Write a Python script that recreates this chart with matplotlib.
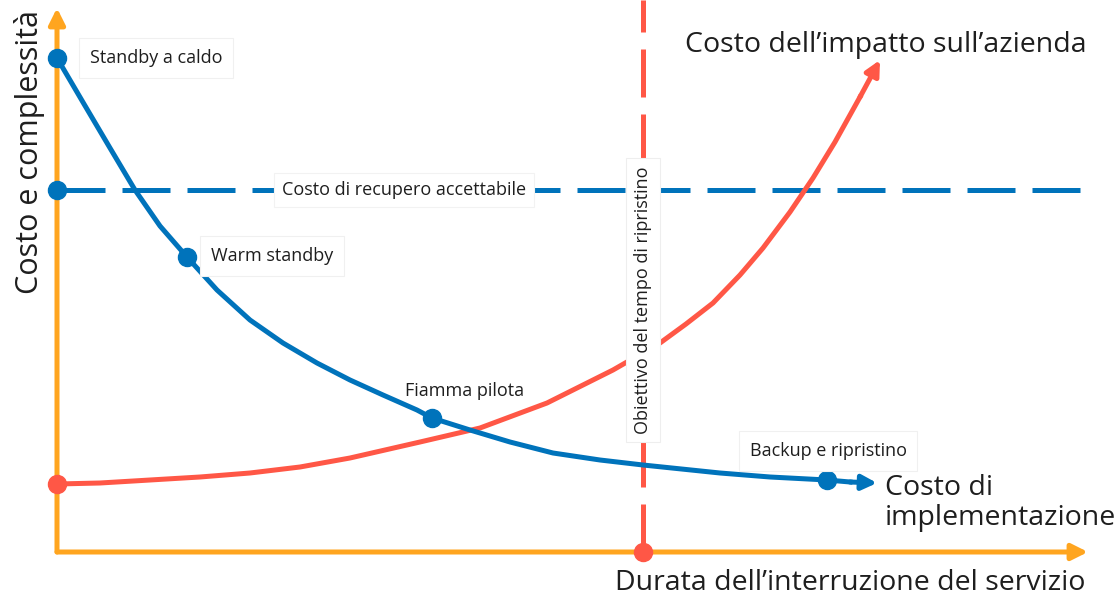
import matplotlib.pyplot as plt

plt.rcParams['font.family'] = ['Open Sans', 'DejaVu Sans']

blue = '#0073bb'
red = '#ff5746'
orange = '#ffa51f'
ink = '#1e1e1e'

# blue curve: cost of implementation
impl_x = [0.00, 0.27, 0.53, 0.78, 1.03, 1.30, 1.60, 1.93, 2.26, 2.60, 2.93, 3.26, 3.60, 3.75,
          4.13, 4.53, 4.96, 5.43, 5.86, 6.63, 7.13, 7.70, 7.93]
impl_y = [9.88, 8.96, 8.08, 7.24, 6.52, 5.90, 5.24, 4.64, 4.18, 3.78, 3.44, 3.14, 2.84, 2.68,
          2.44, 2.20, 1.98, 1.84, 1.74, 1.58, 1.50, 1.44, 1.40]
impl_tip = (8.20, 1.38)

# red curve: business impact cost
impact_x = [0.00, 0.43, 0.93, 1.43, 1.93, 2.43, 2.93, 3.63, 4.23, 4.90, 5.56, 6.03, 6.29,
            6.56, 6.83, 7.06, 7.33, 7.56, 7.78, 8.03]
impact_y = [1.36, 1.38, 1.44, 1.50, 1.58, 1.70, 1.88, 2.20, 2.48, 2.98, 3.64, 4.18, 4.56,
            4.98, 5.54, 6.08, 6.80, 7.48, 8.20, 9.10]
impact_tip = (8.23, 9.84)

# strategies on the blue curve
strat_names = ['Standby a caldo', 'Warm standby', 'Fiamma pilota', 'Backup e ripristino']
strat_x = [0.00, 1.30, 3.75, 7.70]
strat_y = [9.88, 5.90, 2.68, 1.44]

acceptable_cost = 7.24
rto = 5.86
x_end = 10.31
y_end = 10.88

fig = plt.figure(figsize=(11.18, 6), dpi=100)
ax = fig.add_axes([0, 0, 1, 1])
ax.set_xlim(-0.57, 10.61)
ax.set_ylim(-0.96, 11.04)
ax.axis('off')

# axes arrows
ax.annotate('', xy=(x_end, 0), xytext=(0, 0),
            arrowprops=dict(arrowstyle='-|>', color=orange, lw=3.6,
                            mutation_scale=24, shrinkA=0, shrinkB=0), zorder=2)
ax.annotate('', xy=(0, y_end), xytext=(0, 0),
            arrowprops=dict(arrowstyle='-|>', color=orange, lw=3.6,
                            mutation_scale=24, shrinkA=0, shrinkB=0), zorder=2)

# acceptable recovery cost
ax.plot([0, x_end - 0.03], [acceptable_cost] * 2, color=blue, lw=3.6,
        linestyle=(0, (9.6, 3.4)), dash_capstyle='butt', zorder=3)
ax.plot([0], [acceptable_cost], 'o', color=blue, ms=13, zorder=6)

# recovery time objective
ax.plot([rto, rto], [0, 11.04], color=red, lw=3.6,
        linestyle=(0, (9.6, 3.4)), dash_capstyle='butt', zorder=3)
ax.plot([rto], [0], 'o', color=red, ms=13, zorder=6)

# curves
ax.plot(impact_x, impact_y, color=red, lw=3.6, solid_joinstyle='round', zorder=4)
ax.annotate('', xy=impact_tip, xytext=(impact_x[-1], impact_y[-1]),
            arrowprops=dict(arrowstyle='-|>', color=red, lw=3.6,
                            mutation_scale=22, shrinkA=0, shrinkB=0), zorder=4)
ax.plot([impact_x[0]], [impact_y[0]], 'o', color=red, ms=13, zorder=6)

ax.plot(impl_x, impl_y, color=blue, lw=3.6, solid_joinstyle='round', zorder=5)
ax.annotate('', xy=impl_tip, xytext=(impl_x[-1], impl_y[-1]),
            arrowprops=dict(arrowstyle='-|>', color=blue, lw=3.6,
                            mutation_scale=22, shrinkA=0, shrinkB=0), zorder=5)
ax.plot(strat_x, strat_y, 'o', color=blue, ms=13, zorder=6)

box = dict(boxstyle='square,pad=0.6', fc='white', ec='#f0f0f0', lw=0.8)
small = 13
ax.text(0.33, 9.88, strat_names[0], fontsize=small, color=ink, va='center', ha='left', bbox=box, zorder=7)
ax.text(1.54, 5.92, strat_names[1], fontsize=small, color=ink, va='center', ha='left', bbox=box, zorder=7)
ax.text(4.08, 3.22, strat_names[2], fontsize=small, color=ink, va='center', ha='center', zorder=7)
ax.text(7.71, 2.02, strat_names[3], fontsize=small, color=ink, va='center', ha='center', bbox=box, zorder=7)

ax.text(3.47, acceptable_cost, 'Costo di recupero accettabile', fontsize=small, color=ink,
        va='center', ha='center', bbox=dict(boxstyle='square,pad=0.45', fc='white', ec='#f2f2f2', lw=0.8), zorder=7)
ax.text(rto, 5.04, 'Obiettivo del tempo di ripristino', fontsize=small, color=ink, rotation=90,
        va='center', ha='center', bbox=dict(boxstyle='square,pad=0.45', fc='white', ec='#eeeeee', lw=0.8), zorder=7)

big = 20.5
ax.text(6.28, 10.14, 'Costo dell\u2019impatto sull\u2019azienda', fontsize=big, color=ink, va='center', ha='left')
ax.text(8.28, 0.98, 'Costo di\nimplementazione', fontsize=big, color=ink, va='center', ha='left', linespacing=1.05)
ax.text(10.28, -0.62, 'Durata dell\u2019interruzione del servizio', fontsize=big, color=ink, va='center', ha='right')
ax.text(-0.27, 8.0, 'Costo e complessit\u00e0', fontsize=22, color=ink, va='center', ha='center', rotation=90)

fig.savefig('out.png', dpi=100)
